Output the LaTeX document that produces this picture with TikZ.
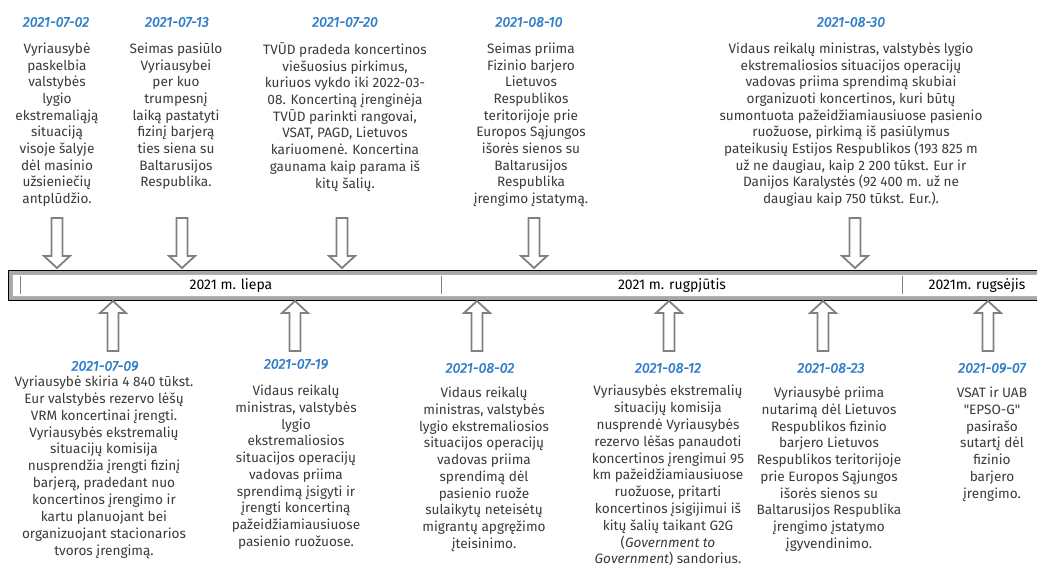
\documentclass[tikz,border=0pt]{standalone}
\usepackage{fontspec}
\setmainfont{Fira Sans}
\newfontfamily\datefont{Fira Sans}[FakeBold=1.6]
\newfontfamily\plainfont{Fira Sans}
\definecolor{txtc}{HTML}{3A3A3A}
\definecolor{datec}{HTML}{2E7DC8}
\definecolor{arrc}{HTML}{808080}
\definecolor{barg}{HTML}{A8A8A8}
\tikzset{
  body/.style={font=\fontsize{13.6}{16.7}\selectfont, text=txtc, align=center,
    inner sep=0pt, anchor=north, execute at begin node={\rule{0pt}{11pt}}},
  datel/.style={font=\fontsize{14.2}{16}\selectfont\datefont\itshape, text=datec, inner sep=0pt},
  month/.style={font=\fontsize{14}{15}\selectfont, text=black, inner sep=0pt, anchor=base},
  blockarr/.style={draw=arrc, line width=1.8pt, fill=white, line join=miter},
  tick/.style={draw=gray, line width=0.9pt},
  pics/downarr/.style={code={\draw[blockarr] (-5.5,0) -- (5.5,0) -- (5.5,38) -- (13,38)
      -- (0,50) -- (-13,38) -- (-5.5,38) -- cycle;}},
  pics/uparr/.style={code={\draw[blockarr] (0,0) -- (13,12) -- (5.5,12) -- (5.5,50)
      -- (-5.5,50) -- (-5.5,12) -- (-13,12) -- cycle;}}
}
\begin{document}
\begin{tikzpicture}[x=1pt,y=-1pt]
\useasboundingbox (0,0) rectangle (1037,570);
% timeline bar
\draw[line width=1pt, fill=barg] (8,270) rectangle (1045,300);
\draw[draw=gray!60, line width=0.6pt, fill=white] (12.5,274) rectangle (1045,296);
\draw[tick] (20,276) -- (20,294);
\draw[tick] (441,276) -- (441,294);
\draw[tick] (902,276) -- (902,294);
\node[month] (m1) at (231,289) {2021 m. liepa};
\node[month] (m2) at (672,289) {2021 m. rugpjūtis};
\node[month] (m3) at (977,289) {2021m. rugsėjis};
% top arrows
\pic at (57,218) {downarr};
\pic at (182,218) {downarr};
\pic at (342,218) {downarr};
\pic at (534,218) {downarr};
\pic at (855,218) {downarr};
% bottom arrows
\pic at (113,301) {uparr};
\pic at (295,301) {uparr};
\pic at (477,301) {uparr};
\pic at (669,301) {uparr};
\pic at (823,301) {uparr};
\pic at (988,301) {uparr};
% top events
\node[datel] (d1) at (56,22) {2021-07-02};
\node[body] (t1) at (57,42.5) {Vyriausybė\\paskelbia\\valstybės\\lygio\\ekstremaliąją\\situaciją\\visoje šalyje\\dėl masinio\\užsieniečių\\antplūdžio.};
\node[datel] (d2) at (177,22) {2021-07-13};
\node[body] (t2) at (176,42.5) {Seimas pasiūlo\\Vyriausybei\\per kuo\\trumpesnį\\laiką pastatyti\\fizinį barjerą\\ties siena su\\Baltarusijos\\Respublika.};
\node[datel] (d3) at (345,22) {2021-07-20};
\node[body] (t3) at (345,42.5) {TVŪD pradeda koncertinos\\viešuosius pirkimus,\\kuriuos vykdo iki 2022-03-\\08. Koncertiną įrenginėja\\TVŪD parinkti rangovai,\\VSAT, PAGD, Lietuvos\\kariuomenė. Koncertina\\gaunama kaip parama iš\\kitų šalių.};
\node[datel] (d4) at (529,22) {2021-08-10};
\node[body] (t4) at (531,42.5) {Seimas priima\\Fizinio barjero\\Lietuvos\\Respublikos\\teritorijoje prie\\Europos Sąjungos\\išorės sienos su\\Baltarusijos\\Respublika\\įrengimo įstatymą.};
\node[datel] (d5) at (851,22) {2021-08-30};
\node[body] (t5) at (851,42.5) {Vidaus reikalų ministras, valstybės lygio\\ekstremaliosios situacijos operacijų\\vadovas priima sprendimą skubiai\\organizuoti koncertinos, kuri būtų\\sumontuota pažeidžiamiausiuose pasienio\\ruožuose, pirkimą iš pasiūlymus\\pateikusių Estijos Respublikos (193 825 m\\už ne daugiau, kaip 2 200 tūkst. Eur ir\\Danijos Karalystės (92 400 m. už ne\\daugiau kaip 750 tūkst. Eur.).};
% bottom events
\node[datel] (d6) at (105,366) {2021-07-09};
\node[body, font=\fontsize{13.6}{16.9}\selectfont] (t6) at (104,375.5) {Vyriausybė skiria 4 840 tūkst.\\Eur valstybės rezervo lėšų\\VRM koncertinai įrengti.\\Vyriausybės ekstremalių\\situacijų komisija\\nusprendžia įrengti fizinį\\barjerą, pradedant nuo\\koncertinos įrengimo ir\\kartu planuojant bei\\organizuojant stacionarios\\tvoros įrengimą.};
\node[datel] (d7) at (296,364) {2021-07-19};
\node[body] (t7) at (296,385) {Vidaus reikalų\\ministras, valstybės\\lygio\\ekstremaliosios\\situacijos operacijų\\vadovas priima\\sprendimą įsigyti ir\\įrengti koncertiną\\pažeidžiamiausiuose\\pasienio ruožuose.};
\node[datel] (d8) at (480,368) {2021-08-02};
\node[body] (t8) at (484,387) {Vidaus reikalų\\ministras, valstybės\\lygio ekstremaliosios\\situacijos operacijų\\vadovas priima\\sprendimą dėl\\pasienio ruože\\sulaikytų neteisėtų\\migrantų apgręžimo\\įteisinimo.};
\node[datel] (d9) at (668,368) {2021-08-12};
\node[body, font=\fontsize{13.6}{16.8}\selectfont] (t9) at (668,385) {Vyriausybės ekstremalių\\situacijų komisija\\nusprendė Vyriausybės\\rezervo lėšas panaudoti\\koncertinos įrengimui 95\\km pažeidžiamiausiuose\\ruožuose, pritarti\\koncertinos įsigijimui iš\\kitų šalių taikant G2G\\(\textit{Government to}\\\textit{Government}) sandorius.};
\node[datel] (d10) at (831,368) {2021-08-23};
\node[body] (t10) at (829,387) {Vyriausybė priima\\nutarimą dėl Lietuvos\\Respublikos fizinio\\barjero Lietuvos\\Respublikos teritorijoje\\prie Europos Sąjungos\\išorės sienos su\\Baltarusijos Respublika\\įrengimo įstatymo\\įgyvendinimo.};
\node[datel] (d11) at (992,368) {2021-09-07};
\node[body] (t11) at (992,387) {VSAT ir UAB\\{\plainfont"EPSO-G"}\\pasirašo\\sutartį dėl\\fizinio\\barjero\\įrengimo.};
\end{tikzpicture}
\end{document}
